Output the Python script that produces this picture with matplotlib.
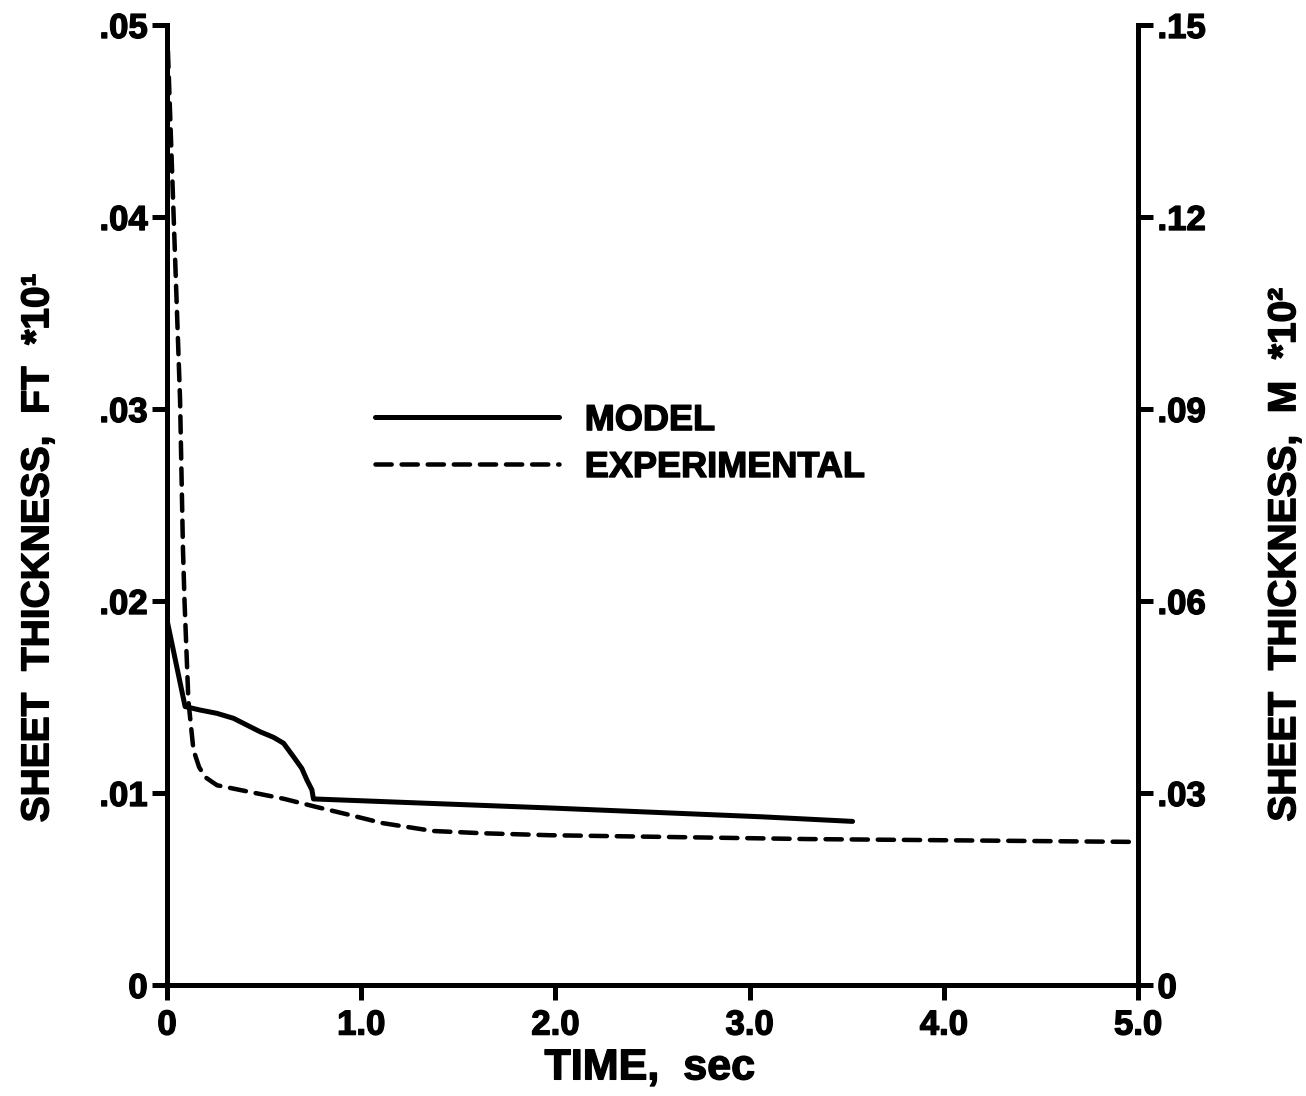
import matplotlib
matplotlib.use("Agg")
import matplotlib.pyplot as plt
import matplotlib.patheffects as pe
from matplotlib.ticker import FuncFormatter

# sheet thickness vs time, FT*10 on the left axis
model_t = [0.0, 0.093, 0.170, 0.256, 0.342, 0.479, 0.548, 0.600, 0.651, 0.694, 0.720,
           0.746, 0.754, 1.97, 3.06, 3.53]
model_h = [0.0190, 0.0145, 0.01432, 0.01415, 0.01389, 0.01319, 0.0129, 0.01259, 0.01189,
           0.01128, 0.01068, 0.01016, 0.00969, 0.00922, 0.00876, 0.00852]

exp_t = [0.0, 0.031, 0.067, 0.082, 0.090, 0.11, 0.136, 0.153, 0.165, 0.196, 0.23, 0.258,
         0.428, 0.60, 0.77, 0.943, 1.11, 1.37, 1.63, 1.97, 3.3, 5.0]
exp_h = [0.0500, 0.0409, 0.0305, 0.0227, 0.0200, 0.0148, 0.01224, 0.01172, 0.01135,
         0.01083, 0.01059, 0.0104, 0.01005, 0.0097, 0.00927, 0.00885, 0.00843, 0.00802,
         0.0079, 0.0078, 0.0076, 0.00745]

x_ticks = [0, 1, 2, 3, 4, 5]
ft_ticks = [0, 0.01, 0.02, 0.03, 0.04, 0.05]
m_ticks = [0, 0.03, 0.06, 0.09, 0.12, 0.15]

FONT = "Liberation Sans"
LW = 3.6
# slight stroke around glyphs so the lettering reads heavy
HEAVY = [pe.withStroke(linewidth=1.0, foreground="black")]


def strip_zero(v, _pos=None):
    if abs(v) < 1e-12:
        return "0"
    return f"{v:.2f}".lstrip("0")


def x_fmt(v, _pos=None):
    if abs(v) < 1e-12:
        return "0"
    return f"{v:.1f}"


plt.rcParams["font.family"] = [FONT, "DejaVu Sans"]
plt.rcParams["font.weight"] = "bold"

fig = plt.figure(figsize=(13.06, 10.96), dpi=100)
ax = fig.add_axes([0.1279, 0.1013, 0.7435, 0.8759])

ax.plot(model_t, model_h, color="black", lw=LW, solid_joinstyle="round",
        solid_capstyle="round", label="MODEL")
ax.plot(exp_t, exp_h, color="black", lw=LW * 0.9, linestyle=(0, (3.6, 2.2)),
        dash_capstyle="round", label="EXPERIMENTAL")

ax.set_xlim(0, 5)
ax.set_ylim(0, 0.05)
ax.set_xticks(x_ticks)
ax.set_yticks(ft_ticks)
ax.xaxis.set_major_formatter(FuncFormatter(x_fmt))
ax.yaxis.set_major_formatter(FuncFormatter(strip_zero))

ax2 = ax.twinx()
ax2.set_ylim(0, 0.15)
ax2.set_yticks(m_ticks)
ax2.yaxis.set_major_formatter(FuncFormatter(strip_zero))

for a in (ax, ax2):
    a.spines["top"].set_visible(False)
    for s in ("left", "right", "bottom"):
        a.spines[s].set_linewidth(3.6)
    a.tick_params(direction="out", length=11, width=3.6, pad=3, labelsize=25)
    for lbl in a.get_xticklabels() + a.get_yticklabels():
        lbl.set_fontweight("bold")
        lbl.set_path_effects(HEAVY)
ax.tick_params(axis="x", pad=6)

ax.set_xlabel("TIME,  sec", fontsize=31, fontweight="bold", path_effects=HEAVY)
ax.xaxis.set_label_coords(0.497, -0.066)
ax.set_ylabel("SHEET  THICKNESS,  FT  *10\u00b9", fontsize=28, fontweight="bold",
              path_effects=HEAVY)
ax.yaxis.set_label_coords(-0.114, 0.455)
ax2.set_ylabel("SHEET  THICKNESS,  M  *10\u00b2", fontsize=28, fontweight="bold",
               rotation=90, path_effects=HEAVY)
ax2.yaxis.set_label_coords(1.133, 0.448)

leg = ax.legend(loc="upper left", bbox_to_anchor=(0.181, 0.64), frameon=False,
                handlelength=5.1, handletextpad=0.7, labelspacing=0.33,
                prop={"family": FONT, "weight": "bold", "size": 26})
for txt in leg.get_texts():
    txt.set_path_effects(HEAVY)

fig.savefig("out.png", dpi=100)
